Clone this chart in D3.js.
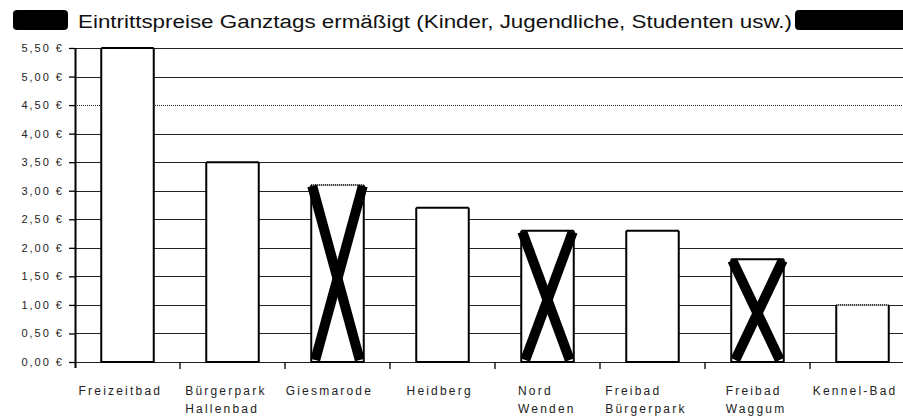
<!DOCTYPE html>
<html>
<head>
<meta charset="utf-8">
<script src="https://cdn.jsdelivr.net/npm/d3@7"></script>
<style>
body { margin: 0; background: #fff; }
svg { display: block; }
</style>
</head>
<body>
<script>
// chart data
var categories = ["Freizeitbad", "Bürgerpark Hallenbad", "Giesmarode", "Heidberg",
	"Nord Wenden", "Freibad Bürgerpark", "Freibad Waggum", "Kennel-Bad"];
var prices = [5.50, 3.50, 3.10, 2.70, 2.30, 2.30, 1.80, 1.00];
var crossedOut = ["Giesmarode", "Nord Wenden", "Freibad Waggum"];
var dottedTop = ["Giesmarode", "Kennel-Bad"];
var yTicks = [0, 0.5, 1, 1.5, 2, 2.5, 3, 3.5, 4, 4.5, 5, 5.5];
var dottedGrid = [4.5];
var title = "Eintrittspreise Ganztags ermäßigt (Kinder, Jugendliche, Studenten usw.)";

var W = 903, H = 416;
var font = "'Liberation Sans', Arial, sans-serif";

var de = d3.formatLocale({decimal: ",", thousands: ".", grouping: [3], currency: ["", " €"]});
var euro = de.format("$.2f");

var svg = d3.select("body").append("svg")
	.attr("width", W)
	.attr("height", H);

var x = d3.scaleBand()
	.domain(categories)
	.range([75, 915])
	.paddingInner(0.5)
	.paddingOuter(0.25);

var y = d3.scaleLinear()
	.domain([0, 5.5])
	.range([362, 48]);

/*
/	TITLE
*/
svg.append("rect")
	.attr("x", 13).attr("y", 10)
	.attr("width", 55).attr("height", 20)
	.attr("rx", 4)
	.style("fill", "#000");

svg.append("rect")
	.attr("x", 795).attr("y", 10)
	.attr("width", 130).attr("height", 20)
	.attr("rx", 4)
	.style("fill", "#000");

svg.append("text")
	.attr("x", 78)
	.attr("y", 28)
	.attr("font-family", font)
	.attr("font-size", "18px")
	.attr("fill", "#111")
	.attr("textLength", 714)
	.attr("lengthAdjust", "spacingAndGlyphs")
	.text(title);

/*
/	GRIDLINES
*/
svg.append("g").selectAll("line")
	.data(yTicks)
	.enter().append("line")
	.attr("x1", 75).attr("x2", W)
	.attr("y1", function(d){ return Math.round(y(d)) + 0.5; })
	.attr("y2", function(d){ return Math.round(y(d)) + 0.5; })
	.attr("stroke", "#222")
	.attr("stroke-width", 1.2)
	.attr("stroke-dasharray", function(d){ return dottedGrid.indexOf(d) >= 0 ? "1,1" : null; });

/*
/	Y AXIS
*/
var yAxis = d3.axisLeft(y)
	.tickValues(yTicks)
	.tickSize(6)
	.tickPadding(5)
	.tickFormat(euro);

var yG = svg.append("g")
	.attr("transform", "translate(75,0)")
	.call(yAxis);
yG.select(".domain").remove();
yG.selectAll(".tick line").attr("stroke", "#000").attr("stroke-width", 1.3);
yG.selectAll(".tick text")
	.attr("font-family", font)
	.attr("font-size", "11px")
	.attr("fill", "#222")
	.attr("letter-spacing", "2px");

svg.append("line")
	.attr("x1", 75.5).attr("x2", 75.5)
	.attr("y1", 48).attr("y2", 368)
	.attr("stroke", "#000")
	.attr("stroke-width", 2);

/*
/	X AXIS TICKS (band boundaries)
*/
var step = x.step();
svg.append("g").selectAll("line")
	.data(categories.slice(1))
	.enter().append("line")
	.attr("x1", function(d){ return x(d) - (step - x.bandwidth()) / 2; })
	.attr("x2", function(d){ return x(d) - (step - x.bandwidth()) / 2; })
	.attr("y1", y(0)).attr("y2", y(0) + 7)
	.attr("stroke", "#000")
	.attr("stroke-width", 1.3);

/*
/	BARS
*/
var bars = svg.append("g").selectAll("g")
	.data(categories)
	.enter().append("g");

bars.append("rect")
	.attr("x", function(d){ return x(d); })
	.attr("y", function(d, i){ return y(prices[i]); })
	.attr("width", x.bandwidth())
	.attr("height", function(d, i){ return y(0) - y(prices[i]); })
	.style("fill", "#fff")
	.style("stroke", "none");

// sides and bottom
bars.append("path")
	.attr("d", function(d, i){
		var x0 = x(d), x1 = x(d) + x.bandwidth(), y0 = y(prices[i]), y1 = y(0);
		return "M" + x0 + "," + y0 + "V" + y1 + "H" + x1 + "V" + y0;
	})
	.style("fill", "none")
	.style("stroke", "#000")
	.style("stroke-width", 2);

// top edge
bars.append("line")
	.attr("x1", function(d){ return x(d); })
	.attr("x2", function(d){ return x(d) + x.bandwidth(); })
	.attr("y1", function(d, i){ return y(prices[i]); })
	.attr("y2", function(d, i){ return y(prices[i]); })
	.style("stroke", "#000")
	.style("stroke-width", 2)
	.style("stroke-dasharray", function(d){ return dottedTop.indexOf(d) >= 0 ? "1,1" : null; });

// the big crosses
bars.filter(function(d){ return crossedOut.indexOf(d) >= 0; })
	.each(function(d){
		var i = categories.indexOf(d);
		var g = d3.select(this);
		var x0 = x(d), x1 = x(d) + x.bandwidth(), y0 = y(prices[i]), y1 = y(0);
		g.append("line")
			.attr("x1", x0 + 1).attr("y1", y0 + 1)
			.attr("x2", x1 - 4).attr("y2", y1 - 2)
			.style("stroke", "#000").style("stroke-width", 10);
		g.append("line")
			.attr("x1", x1 - 1).attr("y1", y0 + 1)
			.attr("x2", x0 + 4).attr("y2", y1 - 2)
			.style("stroke", "#000").style("stroke-width", 10);
	});

/*
/	CATEGORY LABELS
*/
var labels = svg.append("g").selectAll("text")
	.data(categories)
	.enter().append("text")
	.attr("font-family", font)
	.attr("font-size", "12px")
	.attr("fill", "#222")
	.attr("letter-spacing", "2.2px");

labels.each(function(d){
	var t = d3.select(this);
	var lines = d.split(" ");
	lines.forEach(function(l, k){
		t.append("tspan").attr("dy", k === 0 ? 0 : 18).text(l);
	});
	var w = 0;
	t.selectAll("tspan").each(function(){ w = Math.max(w, this.getComputedTextLength()); });
	var left = x(d) + x.bandwidth() / 2 - w / 2 - (w - 55) * 0.25;
	t.attr("y", 395);
	t.selectAll("tspan").attr("x", left);
});
</script>
</body>
</html>
